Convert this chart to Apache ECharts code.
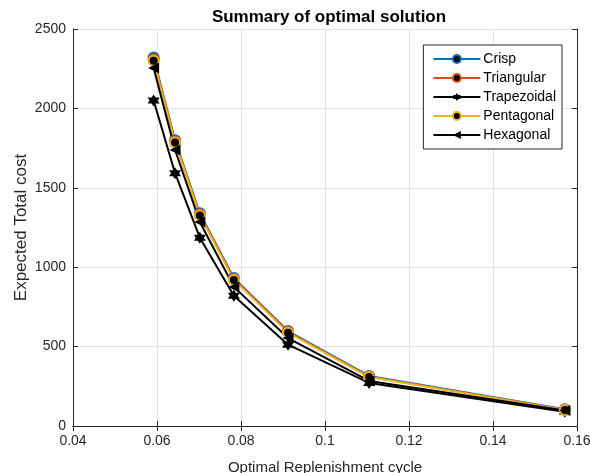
<!DOCTYPE html>
<html>
<head>
<meta charset="utf-8">
<script src="https://cdn.jsdelivr.net/npm/echarts@6/dist/echarts.min.js"></script>
<style>
	html, body {margin:0; padding:0; background:#fff;}
	#chart {width:590px; height:473px;}
</style>
</head>
<body>
<div id="chart"></div>
<script>
//	data
var cycle = [0.0592, 0.0643, 0.0702, 0.0783, 0.0912, 0.1105, 0.1571];
var names = ['Crisp', 'Triangular', 'Trapezoidal', 'Pentagonal', 'Hexagonal'];
var crisp = [2320, 1800, 1340, 932, 598, 315, 105];
var triangular = [2310, 1792, 1333, 926, 593, 311, 103];
var trapezoidal = [2050, 1592, 1186, 820, 512, 271, 90];
var pentagonal = [2300, 1785, 1326, 920, 588, 308, 101];
var hexagonal = [2255, 1738, 1285, 876, 554, 284, 97];

var xTicks = [0.04, 0.06, 0.08, 0.1, 0.12, 0.14, 0.16];
var yTicks = [0, 500, 1000, 1500, 2000, 2500];

var hexagram = 'path://M10 0 L12.89 5 L18.66 5 L15.77 10 L18.66 15 L12.89 15 L10 20 L7.11 15 L1.34 15 L4.23 10 L1.34 5 L7.11 5 Z';
var leftTri = 'path://M0 5 L10 0 L10 10 Z';

function pairs(ys) {
	var out = [];
	for(var i=0; i<cycle.length; i++) {
		out.push([cycle[i], ys[i]]);
	}
	return out;
}

function makeSeries(name, ys, col, symbol, size, fill) {
	return {
		name: name,
		type: 'line',
		data: pairs(ys),
		symbol: symbol,
		symbolSize: size,
		showAllSymbol: true,
		lineStyle: {color: col, width: 2},
		itemStyle: {color: fill, borderColor: col, borderWidth: fill == col ? 0 : 2},
		emphasis: {disabled: true},
		z: 3
	};
}

var axisCol = '#262626';
var font = 'Liberation Sans, Arial, sans-serif';

var myChart = echarts.init(document.getElementById('chart'));
var option = {
	animation: false,
	title: {
		text: 'Summary of optimal solution',
		left: 324,
		top: 4,
		textAlign: 'center',
		textStyle: {fontFamily: font, fontSize: 17, fontWeight: 'bold', color: '#000'}
	},
	grid: {left: 73, right: 13, top: 29, bottom: 47, outerBoundsMode: 'none', containLabel: false},
	legend: {
		orient: 'vertical',
		right: 28,
		top: 45,
		data: names,
		itemWidth: 47,
		itemHeight: 10,
		itemGap: 5,
		padding: [7, 6, 7, 9],
		borderColor: '#262626',
		borderWidth: 1,
		backgroundColor: '#fff',
		textStyle: {fontFamily: font, fontSize: 14, color: '#000', padding: [0, 0, 0, -2]}
	},
	xAxis: [{
		type: 'value',
		min: 0.04,
		max: 0.16,
		interval: 0.02,
		name: 'Optimal Replenishment cycle',
		nameLocation: 'middle',
		nameGap: 34,
		nameMoveOverlap: false,
		nameTextStyle: {fontFamily: font, fontSize: 15, color: axisCol},
		axisLine: {show: true, lineStyle: {color: axisCol, width: 1}},
		axisTick: {show: true, inside: true, length: 5, lineStyle: {color: axisCol}},
		axisLabel: {fontFamily: font, fontSize: 14, color: axisCol, margin: 8,
			formatter: function(v) { return +v.toFixed(2) + ''; }},
		splitLine: {show: true, lineStyle: {color: '#e3e3e3', width: 1}}
	}, {
		type: 'value',
		position: 'top',
		min: 0.04,
		max: 0.16,
		interval: 0.02,
		axisLine: {show: true, lineStyle: {color: axisCol, width: 1}},
		axisTick: {show: true, inside: true, length: 5, lineStyle: {color: axisCol}},
		axisLabel: {show: false},
		splitLine: {show: false}
	}],
	yAxis: [{
		type: 'value',
		min: 0,
		max: 2500,
		interval: 500,
		name: 'Expected Total cost',
		nameLocation: 'middle',
		nameGap: 43,
		nameMoveOverlap: false,
		nameTextStyle: {fontFamily: font, fontSize: 17, color: axisCol},
		axisLine: {show: true, lineStyle: {color: axisCol, width: 1}},
		axisTick: {show: true, inside: true, length: 5, lineStyle: {color: axisCol}},
		axisLabel: {fontFamily: font, fontSize: 14, color: axisCol, margin: 7,
			formatter: function(v) { return v + ''; }},
		splitLine: {show: true, lineStyle: {color: '#e3e3e3', width: 1}}
	}, {
		type: 'value',
		position: 'right',
		min: 0,
		max: 2500,
		interval: 500,
		axisLine: {show: true, lineStyle: {color: axisCol, width: 1}},
		axisTick: {show: true, inside: true, length: 5, lineStyle: {color: axisCol}},
		axisLabel: {show: false},
		splitLine: {show: false}
	}],
	series: [
		makeSeries('Crisp', crisp, '#0072BD', 'circle', 10, '#000'),
		makeSeries('Triangular', triangular, '#D95319', 'circle', 10, '#000'),
		makeSeries('Trapezoidal', trapezoidal, '#000', hexagram, 12, '#000'),
		makeSeries('Pentagonal', pentagonal, '#EDB120', 'circle', 10, '#000'),
		makeSeries('Hexagonal', hexagonal, '#000', leftTri, 11, '#000')
	]
};
myChart.setOption(option);
</script>
</body>
</html>
